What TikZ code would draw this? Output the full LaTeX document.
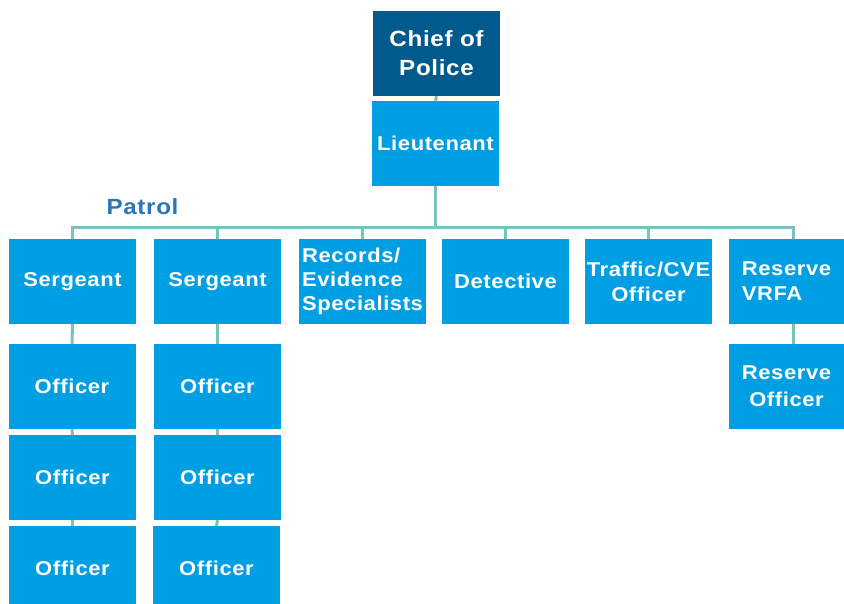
\documentclass[tikz,border=0pt]{standalone}
\usepackage{fontspec}
\setmainfont{Liberation Sans}[LetterSpace=3,FakeStretch=1.1]
\definecolor{lblue}{HTML}{009FE3}
\definecolor{dblue}{HTML}{005B8C}
\definecolor{conncol}{HTML}{78C2C2}
\definecolor{patrolcol}{HTML}{2E75B6}
\tikzset{
  box/.style={rectangle, fill=lblue, minimum width=127pt, minimum height=85pt, inner sep=0pt,
    text=white, align=center, font=\bfseries\fontsize{20}{24}\selectfont},
  narrowbox/.style={box, minimum width=115pt},
  conn/.style={draw=conncol, line width=3pt},
}
\begin{document}
\begin{tikzpicture}[x=1pt,y=-1pt]
\path[use as bounding box] (0,0) rectangle (844,604);
\clip (0,0) rectangle (844,604);
% nodes
\node[box, fill=dblue, font=\bfseries\fontsize{22}{29}\selectfont] (chief) at (436.5,53.5) {Chief of\\Police};
\node[box] (lieut) at (435.5,143.5) {Lieutenant};
\node[box] (serg1) at (72.5,281.5) {Sergeant};
\node[box] (serg2) at (217.5,281.5) {Sergeant};
\node[box, align=left] (rec) at (362.5,281.5) {Records/\\Evidence\\Specialists};
\node[box] (det) at (505.5,281.5) {Detective};
\node[box, font=\bfseries\fontsize{20}{25}\selectfont] (traf) at (648.5,281.5) {Traffic/CVE\\Officer};
\node[narrowbox, align=left, font=\bfseries\fontsize{20}{25}\selectfont] (vrfa) at (786.5,281.5) {Reserve\\VRFA};
\node[narrowbox, font=\bfseries\fontsize{20}{27}\selectfont] (resoff) at (786.5,386.5) {Reserve\\Officer};
\node[box] (o11) at (72,386.5) {Officer};
\node[box] (o12) at (72.5,477.5) {Officer};
\node[box] (o13) at (72.5,568.5) {Officer};
\node[box] (o21) at (217.5,386.5) {Officer};
\node[box] (o22) at (217.5,477.5) {Officer};
\node[box] (o23) at (216.5,568.5) {Officer};
\node[text=patrolcol, font=\bfseries\fontsize{22}{24}\selectfont, inner sep=0pt] (patrol) at (142.5,207) {Patrol};
% connectors
\coordinate (bar) at (435.5,228);
\coordinate (vrfatop) at ([xshift=6.5pt]vrfa.north);
\coordinate (vrfabot) at ([xshift=6.5pt]vrfa.south);
\coordinate (resofftop) at ([xshift=6.5pt]resoff.north);
\draw[conn] (chief.south) -- (lieut.north);
\draw[conn] (lieut.south) -- (bar);
\draw[conn] (serg1.north) -- (serg1.north |- bar) -- (vrfatop |- bar) -- (vrfatop);
\draw[conn] (serg2.north) -- (serg2.north |- bar);
\draw[conn] (rec.north) -- (rec.north |- bar);
\draw[conn] (det.north) -- (det.north |- bar);
\draw[conn] (traf.north) -- (traf.north |- bar);
\draw[conn] (serg1.south) -- (o11.north);
\draw[conn] (o11.south) -- (o12.north);
\draw[conn] (o12.south) -- (o13.north);
\draw[conn] (serg2.south) -- (o21.north);
\draw[conn] (o21.south) -- (o22.north);
\draw[conn] (o22.south) -- (o23.north);
\draw[conn] (vrfabot) -- (resofftop);
\end{tikzpicture}
\end{document}
